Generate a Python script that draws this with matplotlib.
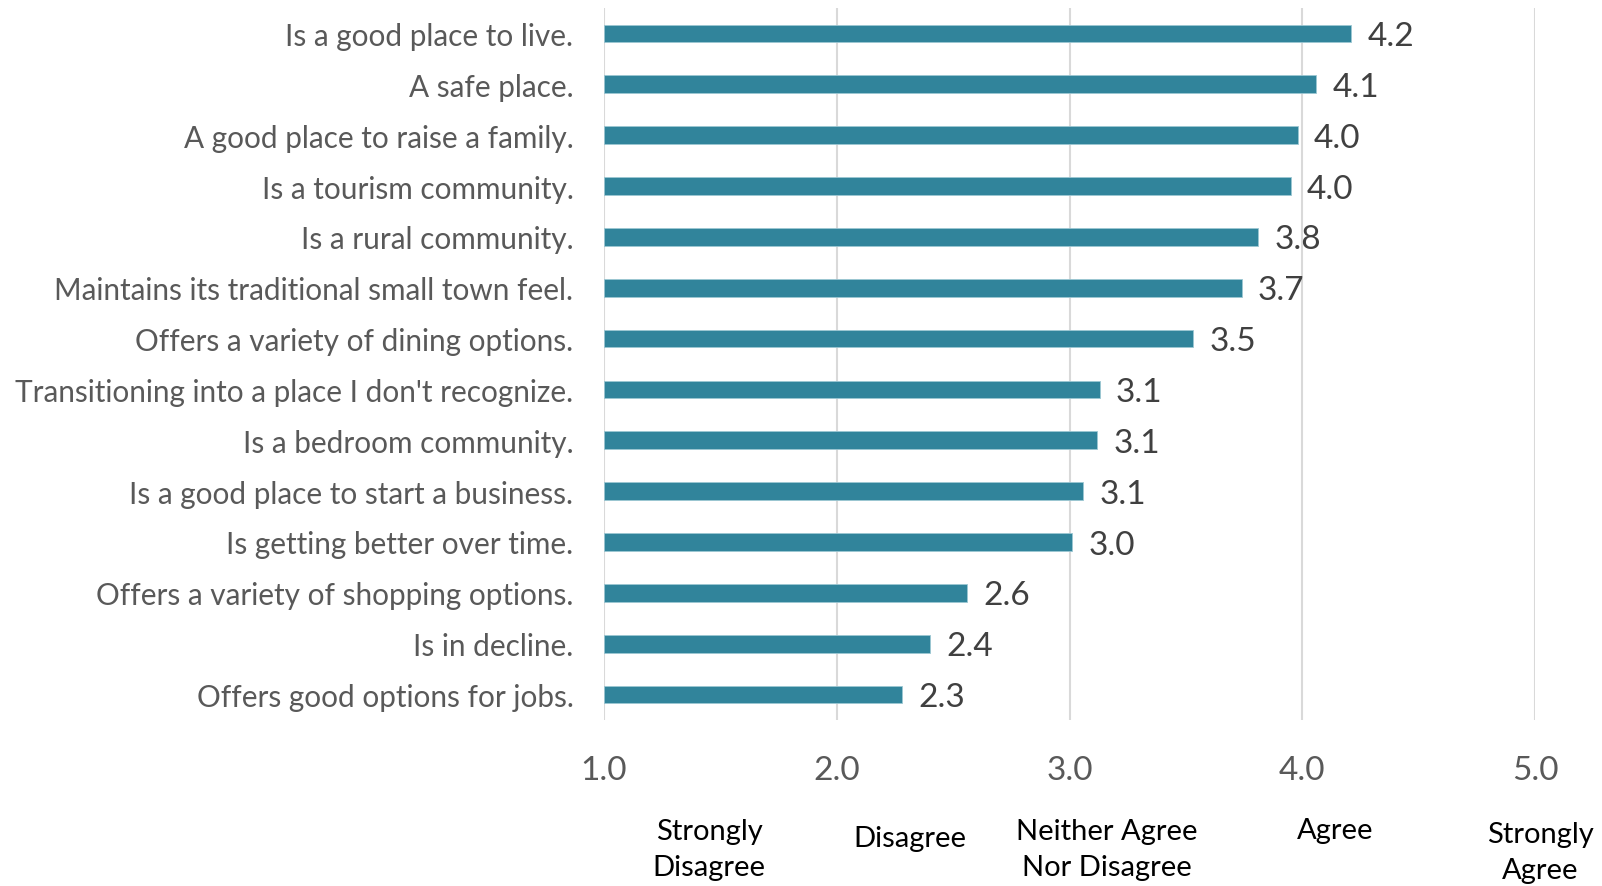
import matplotlib.pyplot as plt
import numpy as np

plt.rcParams['font.family'] = ['Lato', 'DejaVu Sans']

statements = [
    "Is a good place to live.",
    "A safe place.",
    "A good place to raise a family.",
    "Is a tourism community.",
    "Is a rural community.",
    "Maintains its traditional small town feel.",
    "Offers a variety of dining options.",
    "Transitioning into a place I don't recognize.",
    "Is a bedroom community.",
    "Is a good place to start a business.",
    "Is getting better over time.",
    "Offers a variety of shopping options.",
    "Is in decline.",
    "Offers good options for jobs.",
]
scores = [4.21, 4.06, 3.98, 3.95, 3.81, 3.74, 3.53, 3.13, 3.12, 3.06, 3.01, 2.56, 2.40, 2.28]
ticks = [1.0, 2.0, 3.0, 4.0, 5.0]
scale_names = ["Strongly\nDisagree", "Disagree", "Neither Agree\nNor Disagree", "Agree", "Strongly\nAgree"]

bar_color = '#31849B'
W, H = 1602, 887
fig = plt.figure(figsize=(W / 100, H / 100), dpi=100)
ax = fig.add_axes([604 / W, 1 - 721 / H, (1535 - 604) / W, (721 - 9) / H])

y = np.arange(len(statements))
ax.barh(y, np.array(scores) - 1.0, left=1.0, height=0.35, color=bar_color,
        edgecolor='#9CC7D3', linewidth=0.6, zorder=3)
for yi, v in zip(y, scores):
    ax.text(v + 0.07, yi + 0.05, f"{v:.1f}", va='center', ha='left',
            fontsize=24, color='#404040')

ax.set_xlim(1.0, 5.0)
ax.set_ylim(len(statements) - 0.5, -0.5)
ax.set_yticks(y)
ax.set_yticklabels(statements, fontsize=21.4, color='#595959')
ax.set_xticks(ticks)
ax.set_xticklabels([f"{t:.1f}" for t in ticks], fontsize=24, color='#595959')
ax.tick_params(axis='y', length=0, pad=22)
ax.tick_params(axis='x', length=0, pad=25)
ax.grid(axis='x', color='#D9D9D9', linewidth=1.5, zorder=0)
for s in ax.spines.values():
    s.set_visible(False)

# descriptive scale names under the numeric ticks
name_x = [709, 910, 1107, 1335, 1540]
name_y = [850, 839, 850, 831, 853]
for nx, ny, name in zip(name_x, name_y, scale_names):
    fig.text(nx / W, 1 - ny / H, name, ha='center', va='center', fontsize=21,
             color='#000000', linespacing=1.5)

fig.savefig('out.png', dpi=100)
